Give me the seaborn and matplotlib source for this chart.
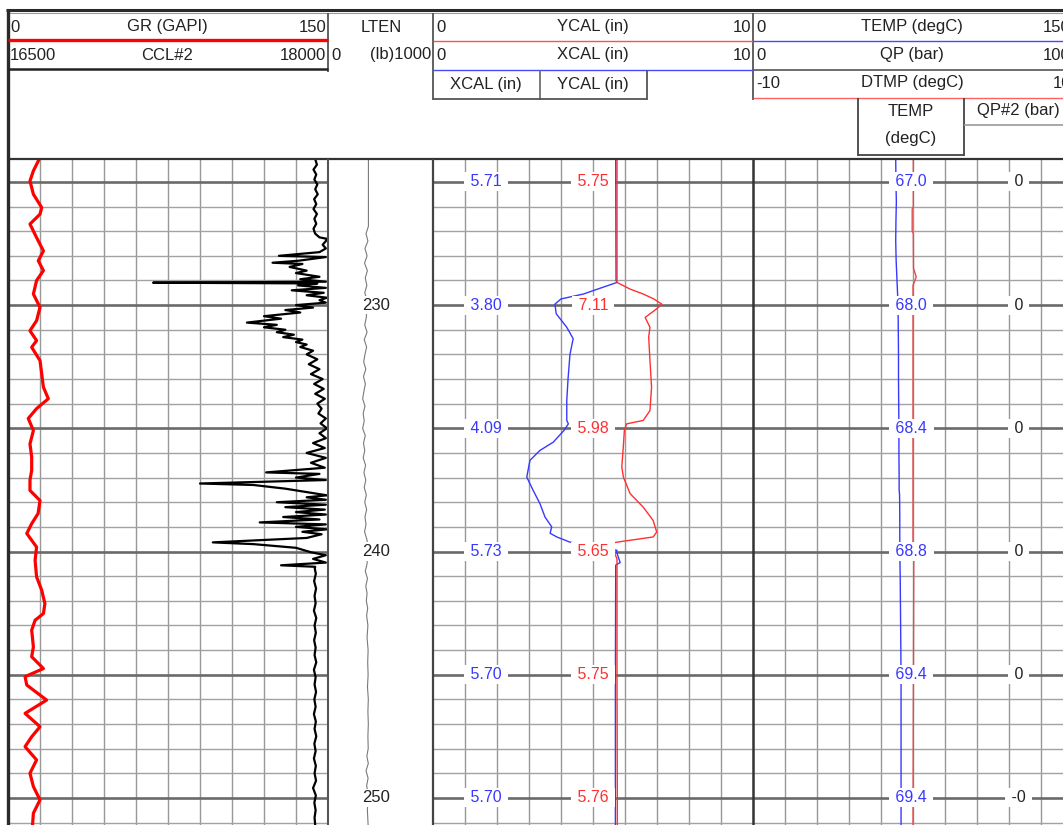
import numpy as np
import matplotlib
matplotlib.use("Agg")
import matplotlib.pyplot as plt
import matplotlib.transforms as mtransforms
import seaborn as sns


# Depth window of the log (ft), top to base.
TOP_DEPTH, BASE_DEPTH = 224.07, 251.1

# Track 1: gamma ray (GAPI, 0-150) and casing collar locator (16500-18000).
gr_depth = [224.07, 224.15, 224.55, 224.96, 225.5, 226.04, 226.31, 226.71, 227.26, 227.8,
            228.2, 228.6, 229.0, 229.55, 230.09, 230.63, 231.04, 231.44, 231.71, 232.25,
            232.79, 233.33, 233.8, 234.2, 234.6, 235.09, 235.63, 236.17, 236.71, 237.1,
            237.52, 237.93, 238.46, 238.87, 239.27, 239.82, 240.36, 241.03, 241.57, 242.11,
            242.52, 242.79, 243.19, 243.87, 244.27, 244.75, 245.08, 245.42, 246.03, 246.57,
            247.11, 247.52, 247.92, 248.46, 249.0, 249.54, 250.08, 250.62, 251.1]
gr_api = [14.6, 14.2, 11.9, 10.3, 11.9, 15.8, 15.0, 10.3, 13.4, 16.6,
          14.2, 16.6, 13.4, 11.9, 15.0, 13.4, 10.3, 13.4, 11.1, 15.0,
          15.8, 16.6, 18.9, 13.4, 9.5, 11.9, 10.3, 11.1, 11.1, 10.3,
          10.3, 15.0, 14.1, 11.1, 8.8, 13.4, 12.7, 13.4, 15.8, 17.3,
          16.6, 12.7, 11.1, 11.9, 11.1, 16.6, 8.0, 8.8, 18.1, 8.0,
          15.0, 11.1, 8.0, 13.4, 10.3, 11.9, 15.0, 11.9, 11.5]

ccl_depth = [224.07, 224.3, 224.5, 224.7, 224.9, 225.1, 225.3, 225.5, 225.7, 225.9,
             226.1, 226.3, 226.5, 226.7, 226.9, 227.1, 227.25, 227.31, 227.4, 227.55,
             227.7, 227.85, 228.0, 228.05, 228.2, 228.28, 228.33, 228.45, 228.6, 228.7,
             228.85, 228.95, 229.05, 229.09, 229.12, 229.2, 229.3, 229.4, 229.5, 229.6,
             229.7, 229.8, 229.9, 230.0, 230.1, 230.2, 230.3, 230.45, 230.55, 230.71,
             230.8, 230.9, 231.0, 231.1, 231.2, 231.3, 231.4, 231.5, 231.6, 231.7,
             231.85, 232.0, 232.2, 232.4, 232.6, 232.8, 233.0, 233.2, 233.4, 233.6,
             233.8, 234.0, 234.2, 234.4, 234.6, 234.8, 235.0, 235.2, 235.4, 235.6,
             235.8, 236.0, 236.2, 236.4, 236.6, 236.79, 236.85, 237.0, 237.1, 237.24,
             237.3, 237.45, 237.72, 237.8, 237.9, 238.0, 238.1, 238.2, 238.3, 238.4,
             238.5, 238.6, 238.7, 238.82, 238.9, 239.0, 239.1, 239.2, 239.3, 239.45,
             239.63, 239.7, 239.85, 240.03, 240.15, 240.3, 240.45, 240.56, 240.62, 240.7,
             240.9, 241.2, 241.5, 241.8, 242.1, 242.4, 242.7, 243.0, 243.3, 243.6,
             243.9, 244.2, 244.5, 244.8, 245.1, 245.4, 245.7, 246.0, 246.3, 246.6,
             246.9, 247.2, 247.5, 247.8, 248.1, 248.4, 248.7, 249.0, 249.3, 249.6,
             249.9, 250.2, 250.5, 250.8, 251.1]
ccl_val = [17940, 17948, 17932, 17945, 17936, 17950, 17940, 17952, 17935, 17945,
           17932, 17948, 17936, 17945, 17932, 17940, 17960, 17995, 17990, 17975,
           17990, 17960, 17770, 17990, 17860, 17740, 17880, 17820, 17900, 17850,
           17960, 17870, 17990, 17180, 17950, 17860, 17990, 17830, 17980, 17900,
           17995, 17960, 17990, 17850, 17930, 17800, 17870, 17700, 17780, 17620,
           17760, 17700, 17800, 17760, 17840, 17790, 17880, 17850, 17900, 17870,
           17930, 17900, 17950, 17910, 17960, 17920, 17975, 17935, 17980, 17940,
           17985, 17950, 17970, 17955, 17990, 17965, 17995, 17960, 17990, 17930,
           17985, 17900, 17990, 17920, 17985, 17710, 17960, 17850, 17990, 17400,
           17650, 17800, 17995, 17900, 17990, 17760, 17990, 17800, 17985, 17850,
           17990, 17790, 17960, 17680, 17990, 17850, 17995, 17880, 17970, 17900,
           17460, 17650, 17850, 17920, 17990, 17930, 17990, 17780, 17940, 17938,
           17943, 17935, 17944, 17937, 17942, 17934, 17945, 17937, 17943, 17935,
           17942, 17937, 17945, 17934, 17942, 17937, 17944, 17936, 17942, 17934,
           17943, 17937, 17945, 17936, 17942, 17934, 17943, 17937, 17944, 17930,
           17943, 17936, 17942, 17937, 17940]

# Track 2: line tension (lb, 0-1000) beside the depth numbers.
lten_depth = [224.07, 226.8, 227.1, 227.4, 227.7, 228.0, 228.3, 228.6, 228.9, 229.2,
              229.5, 229.8, 230.5, 230.8, 231.1, 231.4, 231.7, 232.0, 232.3, 232.6,
              232.9, 233.2, 233.5, 233.8, 234.1, 234.4, 234.7, 235.0, 235.3, 235.6,
              235.9, 236.2, 236.5, 236.8, 237.1, 237.4, 237.7, 238.0, 238.3, 238.6,
              238.9, 239.2, 239.5, 239.8, 240.5, 240.8, 241.1, 241.4, 241.7, 242.0,
              242.3, 242.6, 243.0, 243.5, 244.0, 244.5, 245.0, 245.5, 246.0, 246.5,
              247.0, 247.5, 248.0, 248.3, 248.6, 248.9, 249.2, 249.5, 249.8, 250.5, 251.1]
lten_lb = [385, 385, 362, 380, 352, 372, 348, 375, 355, 370,
           350, 372, 365, 350, 372, 345, 368, 352, 340, 360,
           338, 356, 342, 330, 352, 335, 345, 330, 355, 338,
           350, 335, 358, 342, 360, 345, 365, 350, 368, 352,
           362, 348, 370, 380, 372, 355, 376, 360, 372, 365,
           378, 368, 380, 372, 382, 378, 382, 376, 384, 380,
           384, 380, 383, 370, 384, 362, 382, 368, 380, 375, 382]

# Track 3: X and Y calipers (in, 0-10).
xcal_depth = [224.07, 229.0, 229.08, 229.28, 229.55, 229.75, 229.96, 230.35, 230.9, 231.36,
              232.0, 233.0, 233.87, 234.68, 234.82, 235.09, 235.56, 235.9, 236.3, 236.98,
              237.52, 238.05, 238.6, 239.0, 239.26, 239.41, 239.62, 239.95, 240.0, 240.45,
              240.55, 245.0, 251.1]
xcal_in = [5.71, 5.72, 5.75, 5.3, 4.7, 4.0, 3.81, 3.85, 4.18, 4.38,
           4.28, 4.22, 4.18, 4.18, 4.23, 4.09, 3.76, 3.34, 3.03, 2.93,
           3.13, 3.34, 3.5, 3.71, 3.66, 3.87, 4.28, 5.75, 5.73, 5.85,
           5.71, 5.70, 5.70]

ycal_depth = [224.07, 229.08, 229.35, 229.55, 229.75, 229.96, 230.15, 230.5, 230.9, 231.3,
              232.25, 233.33, 234.28, 234.68, 234.82, 235.09, 235.7, 236.57, 236.98, 237.65,
              238.2, 238.74, 239.21, 239.41, 239.62, 239.68, 240.0, 240.3, 245.0, 250.0, 251.1]
ycal_in = [5.75, 5.75, 6.16, 6.57, 6.9, 7.15, 6.99, 6.63, 6.78, 6.74,
           6.78, 6.83, 6.78, 6.57, 6.05, 5.98, 5.95, 5.9, 5.95, 6.16,
           6.57, 6.88, 6.99, 6.88, 5.75, 5.53, 5.65, 5.75, 5.75, 5.76, 5.76]

# Track 4: temperature (degC, 0-150) and differential temperature (degC, -10..10).
temp_depth = [224.07, 225.0, 225.8, 226.6, 227.4, 228.2, 229.0, 229.6, 230.0, 231.0,
              232.0, 233.0, 234.0, 235.0, 236.0, 237.0, 237.5, 237.7, 238.5, 239.5,
              240.0, 241.0, 242.0, 243.0, 244.0, 245.0, 246.0, 248.0, 250.0, 251.1]
temp_c = [66.9, 67.0, 67.2, 67.0, 66.9, 67.1, 67.5, 67.8, 68.0, 68.1,
          68.2, 68.2, 68.3, 68.4, 68.4, 68.5, 68.5, 68.7, 68.8, 68.8,
          68.8, 69.0, 69.1, 69.2, 69.3, 69.4, 69.4, 69.4, 69.4, 69.4]

dtmp_depth = [224.07, 226.0, 226.1, 227.0, 227.1, 228.5, 228.85, 229.0, 229.2, 240.0, 240.1, 251.1]
dtmp_c = [0.02, 0.02, -0.05, -0.05, 0.02, 0.03, 0.2, 0.12, 0.0, 0.0, 0.05, 0.0]

# Values printed on the 5 ft lines.
label_depths = [225, 230, 235, 240, 245, 250]
xcal_labels = ["5.71", "3.80", "4.09", "5.73", "5.70", "5.70"]
ycal_labels = ["5.75", "7.11", "5.98", "5.65", "5.75", "5.76"]
temp_labels = ["67.0", "68.0", "68.4", "68.8", "69.4", "69.4"]
qp2_labels = ["0", "0", "0", "0", "0", "-0"]
depth_labels = [230, 240, 250]

W, H = 1063, 825
HEADER_BOTTOM = 159
BLUE = "#3838ff"
RED = "#ff3030"
TXT = "#222222"
FS = 11.5
HFS = 12

sns.set_theme(style="white")
plt.rcParams["font.family"] = ["Liberation Sans", "DejaVu Sans"]

fig = plt.figure(figsize=(W / 100, H / 100), dpi=100)


def track_axes(x0, x1):
    return fig.add_axes([x0 / W, 0, (x1 - x0) / W, (H - HEADER_BOTTOM) / H])


def style_track(ax, xmin, xmax, grid=True):
    ax.set_xlim(xmin, xmax)
    if grid:
        ax.set_xticks(np.linspace(xmin, xmax, 11)[1:-1])
        ax.set_yticks(np.arange(225, 251, 5))
        ax.set_yticks(np.arange(225, 252), minor=True)
        ax.grid(axis="x", which="major", color="#989898", lw=1.0)
        ax.grid(axis="y", which="minor", color="#a2a2a2", lw=1.0)
        ax.grid(axis="y", which="major", color="#6a6a6a", lw=1.9)
    ax.tick_params(which="both", left=False, bottom=False, top=False, right=False,
                   labelleft=False, labelbottom=False)
    ax.set_xlabel("")
    ax.set_ylabel("")
    for s in ax.spines.values():
        s.set_visible(False)


def curve(ax, x, y, xmin, xmax, **kw):
    tw = ax.twiny()
    sns.lineplot(x=x, y=y, orient="y", sort=False, estimator=None, ax=tw, **kw)
    tw.set_xlim(xmin, xmax)
    tw.set_axis_off()
    return tw


def value_labels(ax, xfrac, labels, color):
    tr = mtransforms.blended_transform_factory(ax.transAxes, ax.transData)
    for d, s in zip(label_depths, labels):
        ax.text(xfrac, d, f" {s} ", transform=tr, ha="center", va="center",
                color=color, fontsize=FS, zorder=10,
                bbox=dict(boxstyle="square,pad=0.12", fc="white", ec="none"))


# Track 1
ax1 = track_axes(8, 328)
style_track(ax1, 0, 150)
curve(ax1, gr_api, gr_depth, 0, 150, color="#ff0000", lw=2.3)
curve(ax1, ccl_val, ccl_depth, 16500, 18000, color="black", lw=1.6)

# Depth / LTEN track
ax2 = track_axes(328, 433)
style_track(ax2, 0, 1000, grid=False)
tl = curve(ax2, lten_lb, lten_depth, 0, 1000, color="#7a7a7a", lw=0.8)
tr2 = mtransforms.blended_transform_factory(tl.transAxes, tl.transData)
for d in depth_labels:
    tl.text(0.325, d, str(d), transform=tr2, ha="left", va="center", color=TXT,
            fontsize=HFS, zorder=10,
            bbox=dict(boxstyle="square,pad=0.1", fc="white", ec="none"))

# Track 3
ax3 = track_axes(433, 753)
style_track(ax3, 0, 10)
curve(ax3, xcal_in, xcal_depth, 0, 10, color=BLUE, lw=1.0)
ty = curve(ax3, ycal_in, ycal_depth, 0, 10, color=RED, lw=1.0)
value_labels(ty, 53 / 320, xcal_labels, BLUE)
value_labels(ty, 0.5, ycal_labels, RED)

# Track 4 (runs past the right edge of the picture)
ax4 = track_axes(753, 1073)
style_track(ax4, 0, 150)
curve(ax4, temp_c, temp_depth, 0, 150, color=BLUE, lw=1.0)
td = curve(ax4, dtmp_c, dtmp_depth, -10, 10, color="#e84a4a", lw=1.0)
value_labels(td, 0.495, temp_labels, BLUE)
value_labels(td, 0.83, qp2_labels, TXT)

for ax in (ax1, ax2, ax3, ax4):
    ax.set_ylim(BASE_DEPTH, TOP_DEPTH)

# Header and borders, in pixel coordinates
frame = fig.add_axes([0, 0, 1, 1])
frame.set_xlim(0, W)
frame.set_ylim(H, 0)
frame.set_axis_off()


def hline(y, x0, x1, color="#333333", lw=1.2):
    frame.plot([x0, x1], [y, y], color=color, lw=lw, solid_capstyle="butt")


def vline(x, y0, y1, color="#333333", lw=1.2):
    frame.plot([x, x], [y0, y1], color=color, lw=lw, solid_capstyle="butt")


def htext(x, y, s, ha="center"):
    frame.text(x, y, s, ha=ha, va="center", fontsize=HFS, color=TXT)


hline(10, 6, W, color="#2a2a2a", lw=2.2)
hline(13, 8, W, color="#9a9a9a", lw=0.8)
hline(HEADER_BOTTOM, 8, W, color="#333333", lw=1.6)
vline(8, 9, H, color="#2a2a2a", lw=2.4)
vline(328, HEADER_BOTTOM, H, color="#555555", lw=1.5)
vline(433, HEADER_BOTTOM, H, color="#444444", lw=1.6)
vline(753, HEADER_BOTTOM, H, color="#333333", lw=1.8)
vline(328, 13, 72, color="#555555", lw=1.3)
vline(433, 13, 100, color="#555555", lw=1.3)
vline(753, 13, 100, color="#555555", lw=1.3)

# GR / CCL header
htext(10, 27, "0", "left")
htext(167, 27, "GR (GAPI)")
htext(326, 27, "150", "right")
hline(40, 8, 328, color="#ff0000", lw=2.4)
htext(10, 55, "16500", "left")
htext(167, 55, "CCL#2")
htext(326, 55, "18000", "right")
hline(69, 8, 328, color="#222222", lw=1.8)

# LTEN header
htext(381, 27, "LTEN")
htext(331, 55, "0", "left")
htext(431, 55, "(lb)1000", "right")

# Caliper header
htext(436, 27, "0", "left")
htext(593, 27, "YCAL (in)")
htext(751, 27, "10", "right")
hline(41, 433, 753, color="#ff5050", lw=1.0)
htext(436, 55, "0", "left")
htext(593, 55, "XCAL (in)")
htext(751, 55, "10", "right")
hline(70, 433, 753, color="#4848ff", lw=1.0)
htext(486, 84, "XCAL (in)")
htext(593, 84, "YCAL (in)")
vline(540, 70, 100, color="#666666", lw=1.2)
vline(647, 70, 100, color="#555555", lw=1.3)
hline(99, 433, 647, color="#555555", lw=1.3)

# Temperature header
htext(756, 27, "0", "left")
htext(912, 27, "TEMP (degC)")
htext(1071, 27, "150", "right")
hline(41, 753, W, color="#4848ff", lw=1.0)
htext(756, 55, "0", "left")
htext(912, 55, "QP (bar)")
htext(1071, 55, "100", "right")
hline(70, 753, W, color="#555555", lw=1.2)
htext(756, 83, "-10", "left")
htext(912, 83, "DTMP (degC)")
htext(1071, 83, "10", "right")
hline(98, 753, W, color="#ff6060", lw=1.0)
htext(911, 112, "TEMP")
htext(911, 139, "(degC)")
vline(858, 98, 156, color="#444444", lw=1.3)
vline(964, 98, 156, color="#444444", lw=1.3)
hline(155, 858, 964, color="#444444", lw=1.3)
htext(1018, 111, "QP#2 (bar)")
hline(125, 964, W, color="#999999", lw=1.2)

fig.savefig("out.png", dpi=100)
